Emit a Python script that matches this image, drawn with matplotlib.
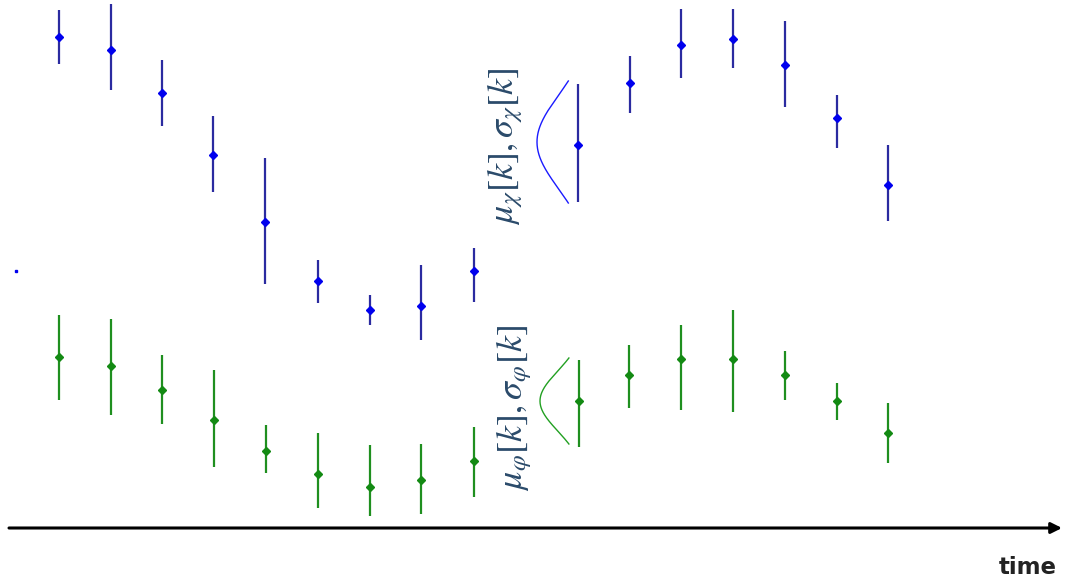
import numpy as np
import matplotlib
matplotlib.use("Agg")
import matplotlib.pyplot as plt

plt.rcParams["mathtext.fontset"] = "stix"

# Time positions (pixel-like units)
x_blue = [59, 111, 162, 213, 265, 318, 370, 421, 474, 578, 630, 681, 733, 785, 837, 888]
y_blue = [37, 50, 93, 155, 222, 281, 310, 306, 271, 145, 83, 45, 39, 65, 118, 185]
top_blue = [10, 4, 60, 116, 158, 260, 295, 265, 248, 84, 56, 9, 9, 21, 95, 145]
bot_blue = [64, 90, 126, 192, 284, 303, 325, 340, 302, 202, 113, 78, 68, 107, 148, 221]

x_green = [59, 111, 162, 214, 266, 318, 370, 421, 474, 579, 629, 681, 733, 785, 837, 888]
y_green = [357, 366, 390, 420, 451, 474, 487, 480, 461, 401, 375, 359, 359, 375, 401, 433]
top_green = [315, 319, 355, 370, 425, 433, 445, 444, 427, 360, 345, 325, 310, 351, 383, 403]
bot_green = [400, 415, 424, 467, 473, 508, 516, 514, 497, 447, 408, 410, 412, 400, 420, 463]

# Gaussian illustrations: (baseline x, mean y, sigma, amplitude, half-range)
gauss_blue = (592, 142, 47, 55, 61)
gauss_green = (585, 401, 30, 45, 43)

label_blue = r"$\mu_\chi[k],\sigma_\chi[k]$"
label_green = r"$\mu_\varphi[k],\sigma_\varphi[k]$"

W, H = 1071, 586
fig = plt.figure(figsize=(W / 100, H / 100), dpi=100)
ax = fig.add_axes([0, 0, 1, 1])
ax.set_xlim(0, W)
ax.set_ylim(H, 0)
ax.axis("off")

blue_line = "#2b2ba0"
blue_mark = "#0000ee"
green_line = "#1f8f1f"
green_mark = "#138a13"

def draw_series(xs, ys, tops, bots, lc, mc):
    ys = np.array(ys); tops = np.array(tops); bots = np.array(bots)
    ax.errorbar(xs, ys, yerr=[ys - tops, bots - ys], fmt="none", ecolor=lc,
                elinewidth=1.6, capsize=0)
    ax.plot(xs, ys, linestyle="none", marker="D", markersize=4.5, color=mc)

draw_series(x_blue, y_blue, top_blue, bot_blue, blue_line, blue_mark)
draw_series(x_green, y_green, top_green, bot_green, green_line, green_mark)

def draw_gauss(params, color):
    x0, mu, s, amp, hr = params
    yy = np.linspace(mu - hr, mu + hr, 200)
    xx = x0 - amp * np.exp(-((yy - mu) ** 2) / (2 * s ** 2))
    ax.plot(xx, yy, color=color, lw=1.0)

draw_gauss(gauss_blue, "#1a1aff")
draw_gauss(gauss_green, "#22a022")

# stray dot
ax.plot([16], [271], marker="s", markersize=1.5, color="#0000ee", linestyle="none")

# labels
ax.text(505, 146, label_blue, rotation=90, ha="center", va="center",
        fontsize=26, color="#2a4a6a")
ax.text(514, 408, label_green, rotation=90, ha="center", va="center",
        fontsize=26, color="#2a4a6a")

# time axis arrow
ax.annotate("", xy=(1062, 528), xytext=(9, 528),
            arrowprops=dict(arrowstyle="-|>", color="black", lw=2.2,
                            mutation_scale=16, shrinkA=0, shrinkB=0))
ax.text(1028, 567, "time", ha="center", va="center", fontsize=16.5,
        fontweight="bold", color="#222222")

fig.savefig("out.png", dpi=100)
